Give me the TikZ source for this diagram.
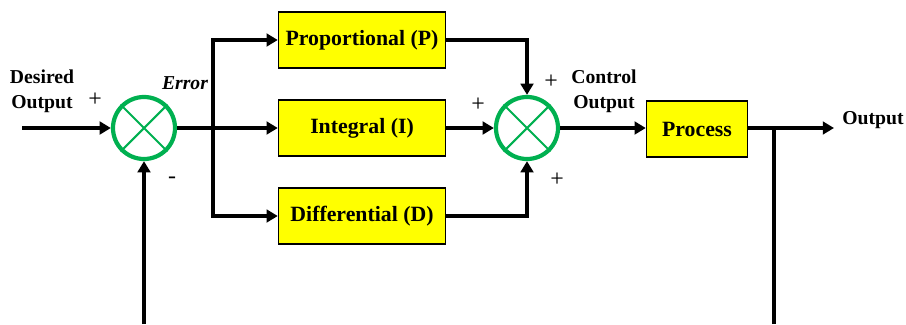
\documentclass[tikz,border=0pt]{standalone}
\usepackage{fontspec}
\setmainfont{Liberation Serif}
\usetikzlibrary{arrows.meta}
\definecolor{sumgreen}{RGB}{0,176,80}
\definecolor{boxyellow}{RGB}{255,255,0}
\begin{document}
\begin{tikzpicture}[x=0.025cm, y=-0.025cm,
    every node/.style={font=\bfseries\fontsize{14}{18}\selectfont},
    block/.style={draw, line width=1pt, fill=boxyellow, minimum height=1.4cm,
        font=\bfseries\fontsize{15.5}{17}\selectfont},
    sumnode/.style={circle, draw=sumgreen, line width=3pt, minimum size=1.55cm, inner sep=0pt},
    sign/.style={font=\fontsize{17}{18}\selectfont},
    wire/.style={line width=2.8pt},
    flow/.style={wire, -{Triangle[length=8pt,width=9pt]}}]
    \useasboundingbox (0,0) rectangle (906,324);

    % summing junctions
    \node[sumnode] (s1) at (144,128) {};
    \node[sumnode] (s2) at (527,128) {};
    \foreach \s in {s1,s2}
        \draw[sumgreen, line width=1.5pt] (\s.45) -- (\s.225) (\s.135) -- (\s.315);

    % controller terms and plant
    \node[block, minimum width=4.175cm] (P) at (362,40) {Proportional (P)};
    \node[block, minimum width=4.175cm] (I) at (362,128) {Integral (I)};
    \node[block, minimum width=4.175cm] (D) at (362,216) {Differential (D)};
    \node[block, minimum width=2.525cm] (proc) at (697,129) {Process};

    % free ends and corners
    \coordinate (in) at (22,128);
    \coordinate (split) at (213,128);
    \coordinate (join) at (774,128);
    \coordinate (out) at (834,128);
    \coordinate (fbL) at (144,324);
    \coordinate (fbR) at (774,324);

    % signal flow
    \draw[flow] (in) -- (s1);
    \draw[wire] (s1) -- (split);
    \draw[flow] (split) -- (I);
    \draw[flow] (split) |- (P);
    \draw[flow] (split) |- (D);
    \draw[flow] (P) -| (s2);
    \draw[flow] (D) -| (s2);
    \draw[flow] (I) -- (s2);
    \draw[flow] (s2) -- (s2 -| proc.west);
    \draw[flow] (proc.east |- out) -- (out);
    \draw[wire] (fbR) -- (join);
    \draw[flow] (fbL) -- (s1);

    % labels
    \node[align=center] (desired) at (42,91) {Desired\\Output};
    \node[sign] (plusIn) at (95,100) {+};
    \node[sign] (minusFb) at (172,180) {-};
    \node (error) at (185,83) {\itshape Error};
    \node[sign] (plusI) at (478,105) {+};
    \node[sign] (plusP) at (551,82) {+};
    \node[sign] (plusD) at (557,180) {+};
    \node[align=center] (ctrl) at (604,91) {Control\\Output};
    \node (output) at (873,120) {Output};
\end{tikzpicture}
\end{document}
